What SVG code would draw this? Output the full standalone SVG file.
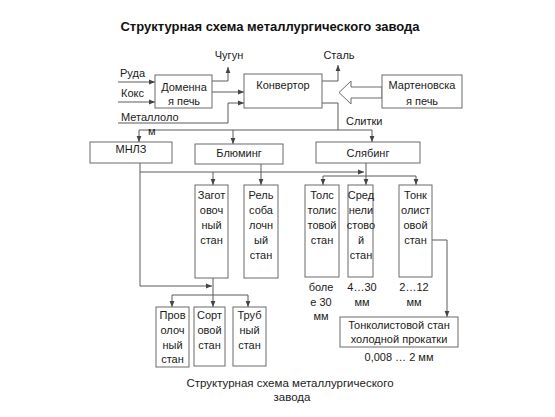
<svg xmlns="http://www.w3.org/2000/svg" width="555" height="417" viewBox="0 0 555 417">
<style>
text{font-family:"Liberation Sans",Arial,sans-serif;font-size:11px;fill:#1a1a1a}
.c{text-anchor:middle}
.t{font-weight:bold;font-size:13px;fill:#111}
.cap{font-size:11.5px;fill:#222}
rect,.box{fill:#fff;stroke:#6a6a6a;stroke-width:1}
.ln{fill:none;stroke:#5a5a5a;stroke-width:1}
.a{marker-end:url(#ah)}
</style>
<defs>
<marker id="ah" viewBox="0 0 6 6" refX="6" refY="3" markerWidth="6" markerHeight="6" markerUnits="userSpaceOnUse" orient="auto">
<path d="M0,0.6 L6,3 L0,5.4z" fill="#444"/>
</marker>
</defs>
<rect x="0" y="0" width="555" height="417" style="fill:#fff;stroke:none"/>
<text class="t c" x="270" y="31">Структурная схема металлургического завода</text>

<g id="connectors">
<path class="ln a" d="M118,82 H155"/>
<path class="ln a" d="M118,102 H155"/>
<path class="ln a" d="M118,123 H228 V103 H244"/>
<path class="ln a" d="M212,81 H228 V67"/>
<path class="ln a" d="M212,92 H244"/>
<path class="ln a" d="M322,81 H338 V65"/>
<path class="ln" d="M322,103 H338 V130"/>
<path class="ln" d="M139,130 H372"/>
<path class="ln a" d="M139,130 V142"/>
<path class="ln a" d="M233,130 V144"/>
<path class="ln a" d="M372,130 V142"/>
<path class="ln a" d="M140,163 V172 H364"/>
<path class="ln a" d="M213,172 V185"/>
<path class="ln a" d="M261,164 V185"/>
<path class="ln" d="M366,163 V176"/>
<path class="ln" d="M323,176 H416"/>
<path class="ln a" d="M323,176 V185"/>
<path class="ln a" d="M366,176 V185"/>
<path class="ln a" d="M416,176 V185"/>
<path class="ln a" d="M140,172 V286 H212"/>
<path class="ln" d="M213,278 V295"/>
<path class="ln" d="M172,295 H248"/>
<path class="ln a" d="M172,295 V307"/>
<path class="ln a" d="M213,295 V307"/>
<path class="ln a" d="M248,295 V307"/>
<path class="ln a" d="M432,240 H447 V317"/>
<polygon class="box" points="382,87 351,87 351,81 339,92.5 351,104 351,98 382,98"/>
</g>

<text x="120" y="77">Руда</text>
<text x="121" y="97">Кокс</text>
<text x="121" y="121">Металлоло</text>
<text x="148" y="135">м</text>
<text class="c" x="229" y="59">Чугун</text>
<text class="c" x="339" y="59">Сталь</text>
<text x="346" y="125">Слитки</text>

<g id="domna"><rect x="155" y="75" width="57" height="33"/><text class="c" x="184" y="91">Доменна</text><text class="c" x="184" y="105">я печь</text></g>
<g id="konvertor"><rect x="244" y="74" width="78" height="34"/><text class="c" x="283" y="89">Конвертор</text></g>
<g id="marten"><rect x="382" y="75" width="80" height="33"/><text class="c" x="422" y="89">Мартеновска</text><text class="c" x="422" y="105">я печь</text></g>

<g id="mnlz"><rect x="90" y="142" width="82" height="21"/><text class="c" x="131" y="153">МНЛЗ</text></g>
<g id="bluming"><rect x="195" y="144" width="88" height="20"/><text class="c" x="239" y="157">Блюминг</text></g>
<g id="slyabing"><rect x="316" y="142" width="104" height="21"/><text class="c" x="368" y="157">Слябинг</text></g>

<g id="zagot"><rect x="195" y="185" width="33" height="93"/>
<text class="c" x="211.5" y="199">Загот</text><text class="c" x="211.5" y="214">овоч</text><text class="c" x="211.5" y="229">ный</text><text class="c" x="211.5" y="244">стан</text></g>
<g id="rels"><rect x="244" y="185" width="34" height="93"/>
<text class="c" x="261" y="199">Рель</text><text class="c" x="261" y="214">соба</text><text class="c" x="261" y="229">лочн</text><text class="c" x="261" y="244">ый</text><text class="c" x="261" y="259">стан</text></g>
<g id="tolst"><rect x="305" y="185" width="34" height="92"/>
<text class="c" x="322" y="199">Толс</text><text class="c" x="322" y="214">толис</text><text class="c" x="322" y="229">товой</text><text class="c" x="322" y="244">стан</text></g>
<g id="sredn"><rect x="348" y="185" width="25" height="92"/>
<text class="c" x="361" y="199">Сред</text><text class="c" x="361" y="214">нели</text><text class="c" x="361" y="229">стово</text><text class="c" x="361" y="244">й</text><text class="c" x="361" y="259">стан</text></g>
<g id="tonk"><rect x="399" y="185" width="33" height="92"/>
<text class="c" x="415.5" y="199">Тонк</text><text class="c" x="415.5" y="214">олист</text><text class="c" x="415.5" y="229">овой</text><text class="c" x="415.5" y="244">стан</text></g>

<text class="c" x="321" y="291">боле</text><text class="c" x="321" y="306">е 30</text><text class="c" x="321" y="320">мм</text>
<text class="c" x="362" y="291">4…30</text><text class="c" x="362" y="306">мм</text>
<text class="c" x="414" y="291">2…12</text><text class="c" x="414" y="306">мм</text>

<g id="provol"><rect x="156" y="307" width="33" height="60"/>
<text class="c" x="172.5" y="319">Пров</text><text class="c" x="172.5" y="334">олоч</text><text class="c" x="172.5" y="349">ный</text><text class="c" x="172.5" y="363">стан</text></g>
<g id="sort"><rect x="194" y="307" width="31" height="59"/>
<text class="c" x="209.5" y="319">Сорт</text><text class="c" x="209.5" y="334">овой</text><text class="c" x="209.5" y="349">стан</text></g>
<g id="trub"><rect x="233" y="307" width="33" height="59"/>
<text class="c" x="249.5" y="319">Труб</text><text class="c" x="249.5" y="334">ный</text><text class="c" x="249.5" y="349">стан</text></g>
<g id="holod"><rect x="340" y="317" width="118" height="30"/>
<text class="c" x="399" y="329">Тонколистовой стан</text><text class="c" x="399" y="343">холодной прокатки</text></g>
<text class="c" x="399" y="361">0,008 … 2 мм</text>

<text class="c cap" x="290" y="387">Структурная схема металлургического</text>
<text class="c cap" x="292" y="401">завода</text>
</svg>
